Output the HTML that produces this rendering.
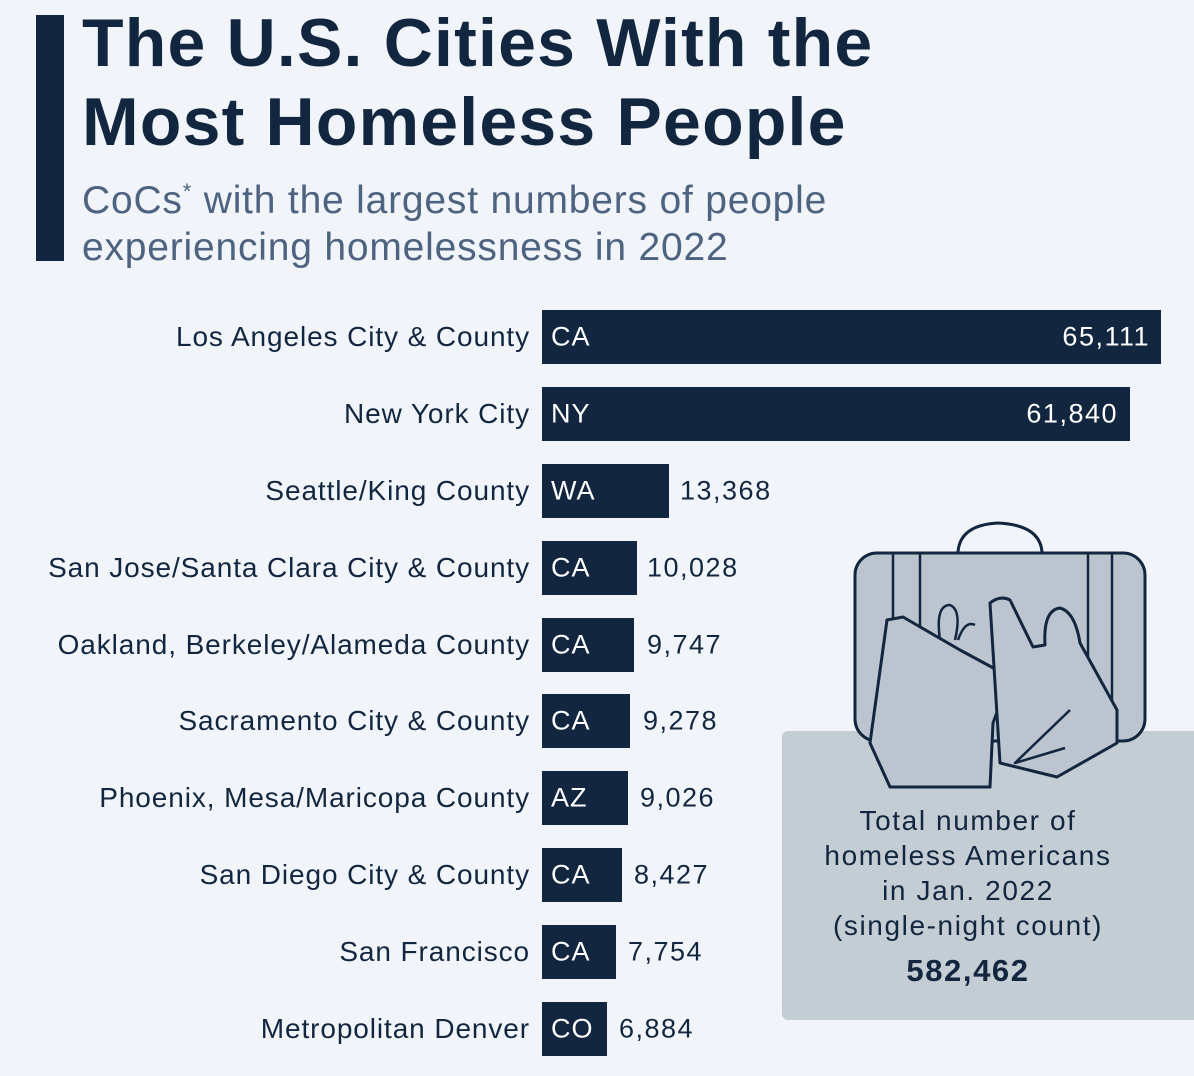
<!DOCTYPE html>
<html><head><style>
body{margin:0;width:1194px;height:1076px;background:#f1f5f9;font-family:"Liberation Sans","DejaVu Sans",sans-serif;position:relative;overflow:hidden;color:#12263f}
.t{position:absolute;left:82px;top:4px;font-size:68px;font-weight:bold;line-height:79px;color:#12263f;letter-spacing:1.2px}
.s{position:absolute;left:82px;top:168px;font-size:39px;line-height:47px;color:#4d6380;letter-spacing:0.8px}
.lab{position:absolute;right:664px;font-size:28px;color:#12263f;white-space:nowrap;transform:translateY(-50%);letter-spacing:0.9px}
.bar{position:absolute;left:542px;height:54px;background:#12263f;transform:translateY(-50%)}
.st{position:absolute;left:551px;font-size:27px;color:#fff;transform:translateY(-50%);letter-spacing:1px}
.v{position:absolute;font-size:27px;transform:translateY(-50%);letter-spacing:1.5px}
</style></head><body>
<div style="position:absolute;left:36px;top:15px;width:28px;height:246px;background:#12263f"></div>
<div class="t">The U.S. Cities With the<br>Most Homeless People</div>
<div class="s">CoCs<sup style="font-size:22px">*</sup> with the largest numbers of people<br>experiencing homelessness in 2022</div>
<div style="position:absolute;left:782px;top:731px;width:420px;height:289px;background:#c4ccd4;border-radius:6px"></div>
<svg style="position:absolute;left:0;top:0" width="1194" height="1076">
<g fill="#bcc5cf" stroke="#12263f" stroke-width="3" stroke-linejoin="round">
<path d="M958 552 Q960 525 998 523 Q1040 525 1042 552" fill="none"/>
<rect x="855" y="553" width="290" height="188" rx="22"/>
<path d="M893 553 L893 730 M920 553 L920 730 M1088 553 L1088 720 M1112 553 L1112 720" fill="none" stroke-width="2.5"/>
<path d="M940 640 Q935 605 950 605 Q962 610 955 640 M958 640 Q965 620 975 625" fill="none" stroke-width="2.5"/>
<path d="M887 620 L903 617 L960 650 L1010 677 L993 723 L990 787 L890 787 L870 743 Z"/>
<path d="M990 603 Q1000 595 1010 600 L1033 647 L1045 645 Q1043 610 1060 608 Q1075 612 1080 643 L1117 710 L1117 743 L1057 777 L1000 763 Z"/>
<path d="M1070 710 L1015 763 L1065 748" fill="none" stroke-width="2.5"/>
</g>
</svg>
<div style="position:absolute;left:782px;top:803px;width:372px;text-align:center;font-size:28px;line-height:35px;color:#12263f;letter-spacing:1.6px">Total number of<br>homeless Americans<br>in Jan. 2022<br>(single-night count)<div style="font-weight:bold;font-size:31px;margin-top:10px">582,462</div></div>

<div class="lab" style="top:337px">Los Angeles City &amp; County</div><div class="bar" style="top:337px;width:619px"></div><div class="st" style="top:337px">CA</div><div class="v" style="top:337px;right:44px;color:#fff">65,111</div>
<div class="lab" style="top:414px">New York City</div><div class="bar" style="top:414px;width:588px"></div><div class="st" style="top:414px">NY</div><div class="v" style="top:414px;right:76px;color:#fff">61,840</div>
<div class="lab" style="top:491px">Seattle/King County</div><div class="bar" style="top:491px;width:127px"></div><div class="st" style="top:491px">WA</div><div class="v" style="top:491px;left:680px">13,368</div>
<div class="lab" style="top:568px">San Jose/Santa Clara City &amp; County</div><div class="bar" style="top:568px;width:95px"></div><div class="st" style="top:568px">CA</div><div class="v" style="top:568px;left:647px">10,028</div>
<div class="lab" style="top:645px">Oakland, Berkeley/Alameda County</div><div class="bar" style="top:645px;width:92px"></div><div class="st" style="top:645px">CA</div><div class="v" style="top:645px;left:647px">9,747</div>
<div class="lab" style="top:721px">Sacramento City &amp; County</div><div class="bar" style="top:721px;width:88px"></div><div class="st" style="top:721px">CA</div><div class="v" style="top:721px;left:643px">9,278</div>
<div class="lab" style="top:798px">Phoenix, Mesa/Maricopa County</div><div class="bar" style="top:798px;width:86px"></div><div class="st" style="top:798px">AZ</div><div class="v" style="top:798px;left:640px">9,026</div>
<div class="lab" style="top:875px">San Diego City &amp; County</div><div class="bar" style="top:875px;width:80px"></div><div class="st" style="top:875px">CA</div><div class="v" style="top:875px;left:634px">8,427</div>
<div class="lab" style="top:952px">San Francisco</div><div class="bar" style="top:952px;width:74px"></div><div class="st" style="top:952px">CA</div><div class="v" style="top:952px;left:628px">7,754</div>
<div class="lab" style="top:1029px">Metropolitan Denver</div><div class="bar" style="top:1029px;width:65px"></div><div class="st" style="top:1029px">CO</div><div class="v" style="top:1029px;left:619px">6,884</div>
</body></html>
